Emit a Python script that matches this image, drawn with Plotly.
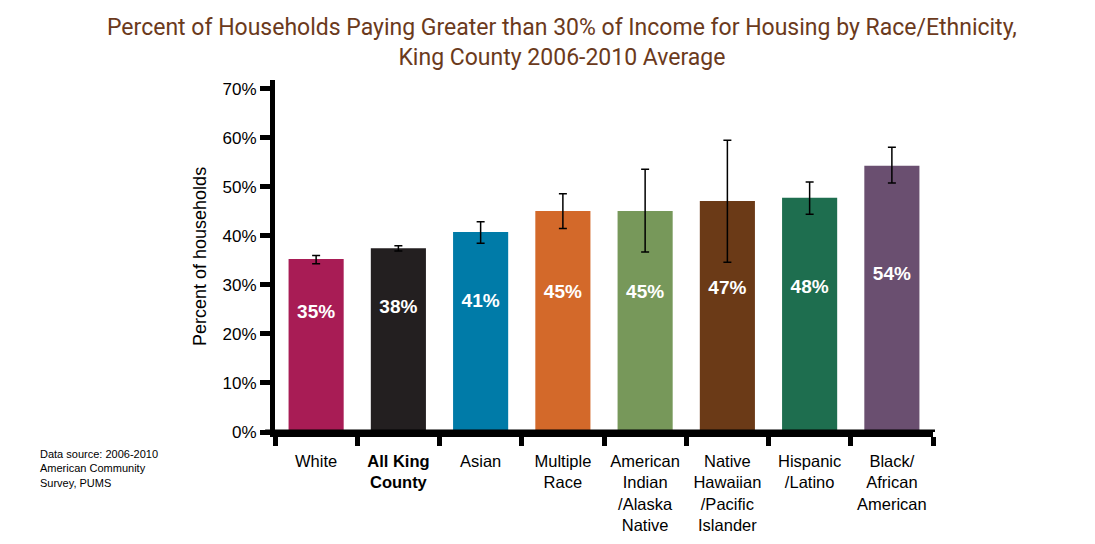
import plotly.graph_objects as go

# Household cost burden by race/ethnicity, King County 2006-2010
groups = [
    "White",
    "<b>All King<br>County</b>",
    "Asian",
    "Multiple<br>Race",
    "American<br>Indian<br>/Alaska<br>Native",
    "Native<br>Hawaiian<br>/Pacific<br>Islander",
    "Hispanic<br>/Latino",
    "Black/<br>African<br>American",
]
pct = [35.3, 37.5, 40.8, 45.1, 45.1, 47.1, 47.8, 54.3]
err_plus = [0.7, 0.5, 2.1, 3.5, 8.5, 12.4, 3.2, 3.8]
err_minus = [1.0, 0.6, 2.3, 3.6, 8.4, 12.5, 3.4, 3.5]
labels = ["35%", "38%", "41%", "45%", "45%", "47%", "48%", "54%"]
ytick_vals = [0, 10, 20, 30, 40, 50, 60, 70]

bar_colors = ["#A81C55", "#231F20", "#007BA8", "#D3692A",
              "#77985A", "#6B3A17", "#1E6E4F", "#6A4F70"]

fig = go.Figure()

fig.add_trace(go.Bar(
    x=groups,
    y=pct,
    marker=dict(color=bar_colors, line=dict(width=0)),
    error_y=dict(type="data", symmetric=False, array=err_plus,
                 arrayminus=err_minus, color="black", thickness=1.5, width=4),
    hoverinfo="x+y",
))

# value labels sit in the upper part of each bar
fig.add_trace(go.Scatter(
    x=groups,
    y=[10 + 0.405 * v for v in pct],
    mode="text",
    text=labels,
    textfont=dict(color="white", size=19, family="Liberation Sans, Arial", weight="bold"),
    hoverinfo="skip",
    showlegend=False,
))

# page body adds an 8px offset, margins are set to compensate
fig.update_layout(
    width=1095,
    height=544,
    plot_bgcolor="white",
    paper_bgcolor="white",
    showlegend=False,
    bargap=0.33,
    margin=dict(l=267, r=170, t=72, b=120),
    font=dict(family="Liberation Sans, Arial", color="black"),
)

fig.update_xaxes(
    showline=True,
    linecolor="black",
    linewidth=5,
    ticks="outside",
    tickson="boundaries",
    ticklen=9,
    tickwidth=5,
    tickcolor="black",
    tickangle=0,
    automargin=False,
    ticklabelstandoff=10,
    tickfont=dict(size=16.5, color="black"),
    showgrid=False,
)

fig.update_yaxes(
    range=[0, 71.8],
    tickvals=ytick_vals,
    ticktext=[f"{v}%" for v in ytick_vals],
    showline=True,
    linecolor="black",
    linewidth=5,
    ticks="outside",
    ticklen=10,
    tickwidth=5,
    tickcolor="black",
    tickfont=dict(size=17, color="black"),
    showgrid=False,
    zeroline=False,
)

# extend the baseline a little past the y axis, like the original
fig.add_shape(type="line", xref="paper", yref="y", x0=-0.015, x1=1.003, y0=0, y1=0,
              line=dict(color="black", width=5))

fig.add_annotation(
    text="Percent of Households Paying Greater than 30% of Income for Housing by Race/Ethnicity,<br>King County 2006-2010 Average",
    xref="paper", yref="paper",
    x=0.436, y=1.193,
    xanchor="center", yanchor="top",
    showarrow=False,
    font=dict(family="Roboto, Arial", size=23, color="#6B3A1C"),
)

fig.add_annotation(
    text="Percent of households",
    xref="paper", yref="paper",
    x=-0.114, y=0.5,
    xanchor="center", yanchor="middle",
    textangle=-90,
    showarrow=False,
    font=dict(size=18, color="black"),
)

fig.add_annotation(
    text="Data source: 2006-2010<br>American Community<br>Survey, PUMS",
    xref="paper", yref="paper",
    x=-0.36, y=-0.04,
    xanchor="left", yanchor="top",
    align="left",
    showarrow=False,
    font=dict(size=11, color="black"),
)

fig.write_html("out.html")
